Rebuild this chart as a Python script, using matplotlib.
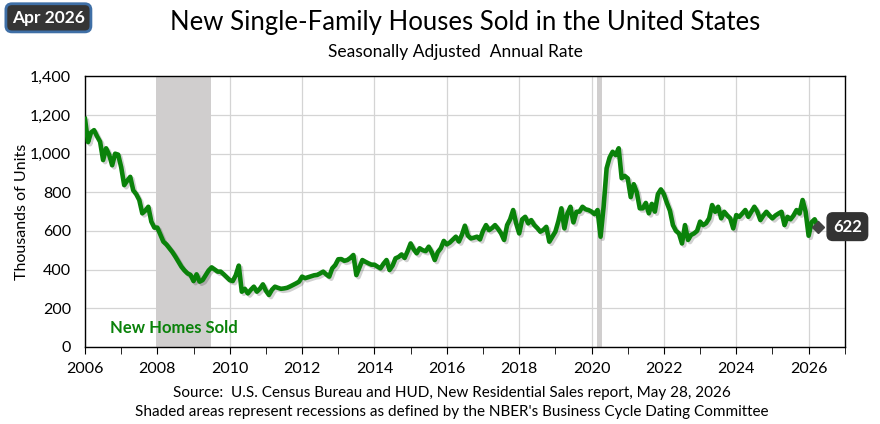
import matplotlib.pyplot as plt
import matplotlib.patheffects as pe
import numpy as np
import pandas as pd

plt.rcParams['font.family'] = ['Lato', 'DejaVu Sans']

# monthly new single-family houses sold, SAAR, thousands (Jan 2006 - Apr 2026)
sales_2006 = [1180, 1060, 1110, 1122, 1090, 1062, 967, 1028, 995, 940, 1000, 995]
sales_2007 = [930, 837, 860, 880, 810, 790, 760, 691, 705, 725, 648, 617]
sales_2008 = [617, 580, 544, 530, 510, 490, 466, 440, 414, 395, 380, 372]
sales_2009 = [340, 375, 337, 345, 370, 395, 411, 400, 389, 389, 375, 360]
sales_2010 = [345, 340, 370, 420, 285, 300, 276, 295, 311, 285, 300, 323]
sales_2011 = [290, 268, 295, 311, 305, 300, 302, 305, 312, 320, 328, 337]
sales_2012 = [363, 355, 360, 365, 370, 372, 380, 389, 375, 363, 406, 423]
sales_2013 = [453, 454, 445, 449, 460, 475, 371, 410, 449, 440, 432, 425]
sales_2014 = [425, 415, 406, 430, 449, 397, 420, 458, 465, 478, 460, 495]
sales_2015 = [535, 505, 484, 510, 500, 495, 518, 490, 449, 490, 510, 548]
sales_2016 = [530, 540, 555, 570, 545, 580, 627, 575, 561, 565, 570, 556]
sales_2017 = [600, 630, 604, 615, 630, 610, 587, 553, 630, 660, 708, 639]
sales_2018 = [587, 660, 673, 639, 656, 630, 615, 596, 605, 621, 544, 570]
sales_2019 = [596, 650, 717, 613, 690, 725, 644, 699, 700, 725, 712, 708]
sales_2020 = [700, 687, 708, 570, 725, 924, 980, 1010, 993, 1028, 873, 885]
sales_2021 = [872, 775, 842, 800, 717, 717, 745, 691, 740, 700, 790, 815]
sales_2022 = [790, 745, 705, 630, 600, 587, 535, 630, 553, 579, 587, 600]
sales_2023 = [648, 630, 640, 665, 734, 699, 725, 665, 699, 680, 665, 613]
sales_2024 = [682, 673, 690, 708, 673, 699, 725, 699, 656, 680, 699, 680]
sales_2025 = [665, 680, 690, 699, 630, 673, 660, 680, 708, 690, 760, 700]
sales_2026 = [575, 645, 660, 622]

sales = (sales_2006 + sales_2007 + sales_2008 + sales_2009 + sales_2010 + sales_2011
         + sales_2012 + sales_2013 + sales_2014 + sales_2015 + sales_2016 + sales_2017
         + sales_2018 + sales_2019 + sales_2020 + sales_2021 + sales_2022 + sales_2023
         + sales_2024 + sales_2025 + sales_2026)

dates = pd.date_range('2006-01-01', periods=len(sales), freq='MS')
years = dates.year + (dates.month - 1) / 12

recessions = [(2007.96, 2009.47), (2020.15, 2020.30)]

green = '#0a820a'

fig = plt.figure(figsize=(8.8, 4.24), dpi=100)
ax = fig.add_axes([0.0966, 0.1823, 0.8634, 0.6373])

for start, end in recessions:
    ax.axvspan(start, end, color='#d0cece', lw=0, zorder=1)

ax.plot(years, sales, color=green, lw=3.3, solid_joinstyle='round', zorder=3,
        path_effects=[pe.SimpleLineShadow(offset=(1.5, -1.5), shadow_color='k', alpha=0.18),
                      pe.Normal()])
ax.plot(years[-1:], sales[-1:], marker='D', ms=6, color='#444444', ls='none', zorder=4)

ax.annotate(f'{sales[-1]:,}', xy=(years[-1], sales[-1]), xytext=(11, 0),
            textcoords='offset points', va='center', ha='left',
            fontsize=12, fontweight='bold', color='white', annotation_clip=False,
            bbox=dict(boxstyle='round,pad=0.35', fc='#333333', ec='#333333'))

ax.set_xlim(2006, 2027)
ax.set_ylim(0, 1400)
ax.set_xticks(np.arange(2006, 2027, 2))
ax.set_xticks(np.arange(2006, 2028, 1), minor=True)
ax.set_yticks(np.arange(0, 1401, 200))
ax.set_yticklabels([f'{v:,}' for v in range(0, 1401, 200)])
ax.tick_params(axis='both', labelsize=11.5, colors='black')
ax.tick_params(axis='x', which='both', direction='out', length=5, pad=6)
ax.tick_params(axis='y', length=0, pad=10)
ax.grid(True, which='major', color='#d4d4d4', lw=0.9, zorder=0)
ax.set_axisbelow(True)
for s in ax.spines.values():
    s.set_color('black')
    s.set_linewidth(1.0)

ax.set_ylabel('Thousands of Units', fontsize=11.5, labelpad=1)

ax.text(2006.7, 97, 'New Homes Sold', color=green, fontsize=12, fontweight='bold',
        va='center', ha='left')

fig.text(0.528, 0.948, 'New Single-Family Houses Sold in the United States',
         ha='center', va='center', fontsize=18.5)
fig.text(0.517, 0.878, 'Seasonally Adjusted  Annual Rate', ha='center', va='center',
         fontsize=12.5)
fig.text(0.055, 0.958, 'Apr 2026', ha='center', va='center', fontsize=12.5,
         fontweight='bold', color='white',
         bbox=dict(boxstyle='round,pad=0.35', fc='#353535', ec='#3f6fa6', lw=2))

fig.text(0.514, 0.073, 'Source:  U.S. Census Bureau and HUD, New Residential Sales report, May 28, 2026',
         ha='center', va='center', fontsize=11)
fig.text(0.513, 0.028, "Shaded areas represent recessions as defined by the NBER's Business Cycle Dating Committee",
         ha='center', va='center', fontsize=11)

fig.savefig('out.png', dpi=100)
